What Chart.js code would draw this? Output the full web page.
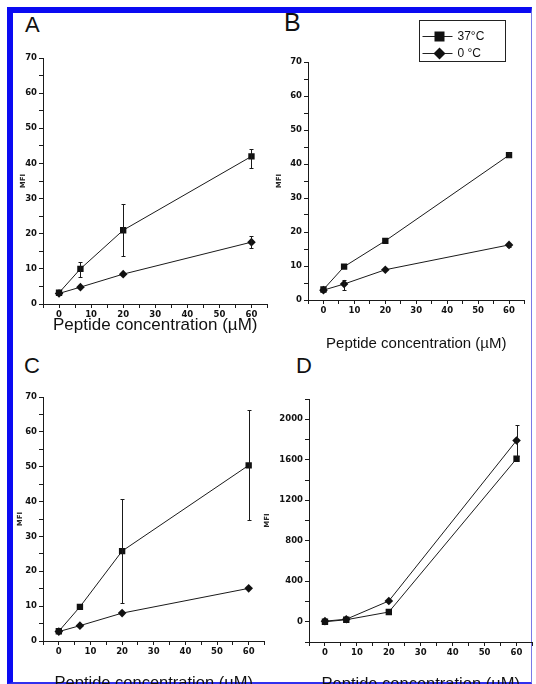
<!DOCTYPE html>
<html>
<head>
<meta charset="utf-8">
<script src="https://cdn.jsdelivr.net/npm/chart.js@4"></script>
<style>
  body { margin: 0; width: 536px; height: 684px; overflow: hidden; background: #fff; position: relative; font-family: "Liberation Sans", Arial, sans-serif; }
  .frame { position: absolute; left: 7px; top: 7px; width: 525px; height: 677px; box-sizing: border-box;
           border-left: 6px solid #0b0bf2; border-top: 6px solid #0b0bf2; border-right: 1px solid #7a7ae8; border-bottom: 2px solid #3030ee; }
  canvas { position: absolute; }
  .letter { position: absolute; font-size: 22px; line-height: 1; color: #111; }
</style>
</head>
<body>
<div class="frame"></div>
<div class="letter" style="left:25px; top:14px;">A</div>
<div class="letter" style="left:284px; top:10px; font-size:25px;">B</div>
<div class="letter" style="left:24px; top:355px;">C</div>
<div class="letter" style="left:296px; top:355px;">D</div>
<canvas id="chartA"></canvas>
<canvas id="chartB"></canvas>
<canvas id="chartC"></canvas>
<canvas id="chartD"></canvas>
<script>
// peptide concentrations (µM)
const conc = [0, 6.67, 20, 60];
const seriesNames = ['37°C', '0 °C'];

// panel A
const a37 = [3.2, 10, 21, 42];
const a37Hi = [null, 12, 28.5, 44.2];
const a37Lo = [null, 7.8, 13.7, 38.8];
const a0 = [3, 4.8, 8.5, 17.6];
const a0Hi = [null, null, null, 19.4];
const a0Lo = [null, null, null, 15.9];

// panel B
const b37 = [3.1, 9.8, 17.4, 42.6];
const b37Hi = [null, null, null, 43.1];
const b37Lo = [null, null, null, 42.1];
const b0 = [2.9, 4.7, 8.9, 16.2];
const b0Hi = [null, 6, null, 16.6];
const b0Lo = [null, 2.9, null, 15.6];

// panel C
const c37 = [2.8, 9.8, 25.8, 50.4];
const c37Hi = [null, null, 40.7, 66.2];
const c37Lo = [null, null, 10.8, 34.7];
const c0 = [2.7, 4.4, 8, 15.1];

// panel D
const d37 = [0, 20, 96, 1610];
const d0 = [6, 25, 205, 1790];
const d0Hi = [null, null, null, 1943];
const d0Lo = [null, null, null, 1640];

const xTitle = 'Peptide concentration (µM)';
const yTitle = 'MFI';

const ink = '#1a1a1a';

// vertical error bars with small caps
const errorBars = {
  id: 'errorBars',
  afterDatasetsDraw(chart) {
    const ctx = chart.ctx;
    const x = chart.scales.x, y = chart.scales.y;
    ctx.save();
    ctx.strokeStyle = ink;
    ctx.lineWidth = 1;
    chart.data.datasets.forEach(ds => {
      if (!ds.hi) return;
      ds.data.forEach((p, i) => {
        if (ds.hi[i] == null) return;
        const px = Math.round(x.getPixelForValue(p.x)) + 0.5;
        const yh = Math.round(y.getPixelForValue(ds.hi[i])) + 0.5;
        const yl = Math.round(y.getPixelForValue(ds.lo[i])) + 0.5;
        ctx.beginPath();
        ctx.moveTo(px, yh); ctx.lineTo(px, yl);
        ctx.moveTo(px - 2, yh); ctx.lineTo(px + 2, yh);
        ctx.moveTo(px - 2, yl); ctx.lineTo(px + 2, yl);
        ctx.stroke();
      });
    });
    ctx.restore();
  }
};

// boxed legend (only panel B has one)
const boxLegend = {
  id: 'boxLegend',
  afterDraw(chart) {
    if (!chart.options.plugins.boxLegend || !chart.options.plugins.boxLegend.show) return;
    const ctx = chart.ctx;
    const area = chart.chartArea;
    const bx = Math.round(area.right - 106) + 0.5, by = Math.round(area.top - 42) + 0.5;
    ctx.save();
    ctx.strokeStyle = '#222';
    ctx.lineWidth = 1;
    ctx.strokeRect(bx, by, 86, 41);
    ctx.font = '12px "Liberation Sans", Arial, sans-serif';
    ctx.textBaseline = 'middle';
    ctx.fillStyle = '#111';
    chart.data.datasets.forEach((ds, i) => {
      const ly = by + 16 + i * 17;
      ctx.beginPath();
      ctx.moveTo(bx + 3, ly); ctx.lineTo(bx + 33, ly);
      ctx.stroke();
      const mx = bx + 20;
      ctx.beginPath();
      if (ds.pointStyle === 'rect') {
        ctx.rect(mx - 5, ly - 5, 10, 10);
      } else {
        ctx.moveTo(mx, ly - 6); ctx.lineTo(mx + 6, ly); ctx.lineTo(mx, ly + 6); ctx.lineTo(mx - 6, ly);
        ctx.closePath();
      }
      ctx.fill();
      ctx.fillText(ds.label, bx + 38, ly);
    });
    ctx.restore();
  }
};

function makeSet(label, ys, hi, lo, style) {
  return {
    label: label,
    data: conc.map((c, i) => ({ x: c, y: ys[i] })),
    hi: hi, lo: lo,
    borderColor: ink,
    borderWidth: 1,
    backgroundColor: '#111',
    pointBackgroundColor: '#111',
    pointBorderColor: '#111',
    pointBorderWidth: 0,
    pointStyle: style,
    pointRadius: style === 'rect' ? 4.5 : 4.3,
    tension: 0
  };
}

function panel(id, box, sets, yMin, yMax, yStep, yLabelEvery, xFont) {
  const cv = document.getElementById(id);
  cv.width = box.w;
  cv.height = box.h;
  cv.style.left = box.left + 'px';
  cv.style.top = box.top + 'px';
  const tickFont = { family: '"DejaVu Sans", sans-serif', size: 8.5, weight: 'bold' };
  return new Chart(cv, {
    type: 'line',
    data: { datasets: sets },
    options: {
      responsive: false,
      animation: false,
      events: [],
      layout: { padding: { top: box.pt, left: 0, right: 0, bottom: 0 } },
      plugins: { legend: { display: false }, tooltip: { enabled: false }, boxLegend: { show: !!box.legend } },
      scales: {
        x: {
          type: 'linear', min: -5, max: 65,
          ticks: { stepSize: 5, autoSkip: false, maxRotation: 0, padding: 2, color: '#111', font: tickFont,
                   callback: v => (v % 10 === 0 ? String(v) : '') },
          grid: { drawOnChartArea: false, drawTicks: true, tickLength: 4, color: ink },
          border: { display: true, color: ink, width: 1 },
          title: { display: true, text: xTitle, color: '#111', padding: 0,
                   font: { family: '"Liberation Sans", Arial, sans-serif', size: xFont } },
          afterFit: s => { s.height = box.hx; }
        },
        y: {
          type: 'linear', min: yMin, max: yMax,
          ticks: { stepSize: yStep, autoSkip: false, padding: 2, color: '#111', font: tickFont,
                   callback: v => (v % yLabelEvery === 0 ? String(v) : '') },
          grid: { drawOnChartArea: false, drawTicks: true, tickLength: 4, color: ink },
          border: { display: true, color: ink, width: 1 },
          title: { display: true, text: yTitle, color: '#222', padding: 0,
                   font: { family: '"DejaVu Sans", sans-serif', size: 7, weight: 'bold' } },
          afterFit: s => { s.width = box.wy; }
        }
      }
    },
    plugins: [errorBars, boxLegend]
  });
}

panel('chartA', { left: 19, top: 50, w: 253, h: 286, pt: 8, wy: 24, hx: 32 },
  [makeSet(seriesNames[0], a37, a37Hi, a37Lo, 'rect'), makeSet(seriesNames[1], a0, a0Hi, a0Lo, 'rectRot')],
  0, 70, 5, 10, 17);

panel('chartB', { left: 275, top: 14, w: 254, h: 339, pt: 48, wy: 33, hx: 53, legend: true },
  [makeSet(seriesNames[0], b37, b37Hi, b37Lo, 'rect'), makeSet(seriesNames[1], b0, b0Hi, b0Lo, 'rectRot')],
  0, 70, 5, 10, 15);

panel('chartC', { left: 16, top: 389, w: 253, h: 304, pt: 8, wy: 27, hx: 52 },
  [makeSet(seriesNames[0], c37, c37Hi, c37Lo, 'rect'), makeSet(seriesNames[1], c0, null, null, 'rectRot')],
  0, 70, 5, 10, 16.5);

panel('chartD', { left: 263, top: 391, w: 274, h: 303, pt: 8, wy: 46, hx: 52 },
  [makeSet(seriesNames[0], d37, null, null, 'rect'), makeSet(seriesNames[1], d0, d0Hi, d0Lo, 'rectRot')],
  -200, 2200, 200, 400, 16.5);
</script>
</body>
</html>
